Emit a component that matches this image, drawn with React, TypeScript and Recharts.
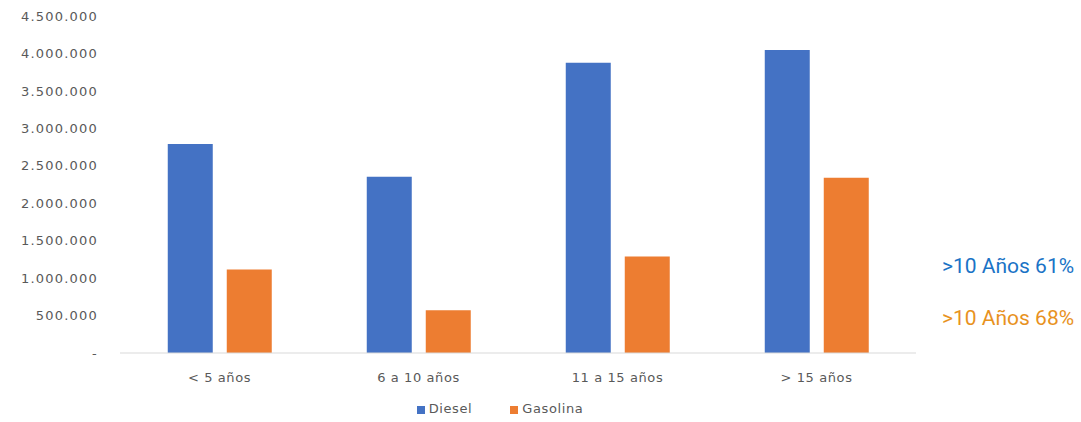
import { BarChart, Bar, XAxis, YAxis, Legend } from "recharts";

const categories = ["< 5 años", "6 a 10 años", "11 a 15 años", "> 15 años"];
const diesel = [2790000, 2355000, 3875000, 4045000];
const gasolina = [1115000, 570000, 1290000, 2340000];
const yTicks = [0, 500000, 1000000, 1500000, 2000000, 2500000, 3000000, 3500000, 4000000, 4500000];
const notes = [
    { text: ">10 Años 61%", color: "#1a73c6", top: 254 },
    { text: ">10 Años 68%", color: "#e8921e", top: 306 },
];

const data = categories.map((name, i) => ({ name, Diesel: diesel[i], Gasolina: gasolina[i] }));

const formatTick = (v: number) => (v === 0 ? "-" : v.toLocaleString("de-DE"));

const axisText = { fontFamily: "DejaVu Sans", fontSize: 13, fill: "#595959", letterSpacing: 1.2 };

export default function App() {
    return (
        <div style={{ position: "absolute", left: 0, top: 0, width: 1081, height: 422, background: "#fff" }}>
            <BarChart
                width={930}
                height={422}
                data={data}
                margin={{ top: 16, right: 14, left: 0, bottom: 8 }}
                barCategoryGap="24%"
                barGap={14}
            >
                <XAxis
                    dataKey="name"
                    axisLine={{ stroke: "#d9d9d9" }}
                    tickLine={false}
                    tick={{ ...axisText, letterSpacing: 0.6 }}
                    tickMargin={14}
                    height={30}
                />
                <YAxis
                    domain={[0, 4500000]}
                    ticks={yTicks}
                    tickFormatter={formatTick}
                    axisLine={false}
                    tickLine={false}
                    tickSize={0}
                    tickMargin={22}
                    width={120}
                    tick={axisText}
                />
                <Legend
                    verticalAlign="bottom"
                    iconType="square"
                    iconSize={8}
                    height={31}
                    wrapperStyle={{ left: 40, top: 401, width: 930, fontFamily: "DejaVu Sans", fontSize: 13, letterSpacing: 0.6 }}
                    formatter={(value) => (
                        <span style={{ color: "#595959", paddingRight: value === "Diesel" ? 28 : 0 }}>{value}</span>
                    )}
                />
                <Bar dataKey="Diesel" fill="#4472c4" isAnimationActive={false} />
                <Bar dataKey="Gasolina" fill="#ed7d31" isAnimationActive={false} />
            </BarChart>
            {notes.map((n) => (
                <div
                    key={n.text}
                    style={{
                        position: "absolute",
                        left: 942,
                        top: n.top,
                        color: n.color,
                        fontFamily: "Roboto",
                        fontSize: 21,
                        whiteSpace: "nowrap",
                    }}
                >
                    {n.text}
                </div>
            ))}
        </div>
    );
}
